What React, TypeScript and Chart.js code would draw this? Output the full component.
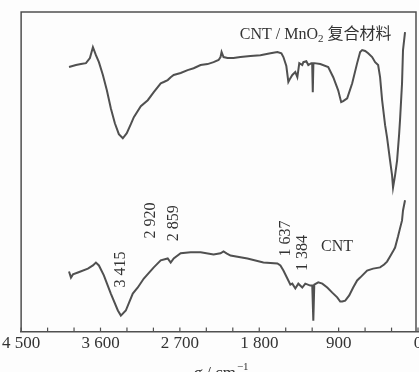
import React, { useEffect, useRef } from "react";
import { Chart, registerables } from "chart.js";

Chart.register(...registerables);

// Wavenumber (cm^-1) and relative transmittance readings
const compositeWavenumbers = [3957, 3878, 3822, 3765, 3720, 3686, 3652, 3618, 3573, 3528, 3483, 3437, 3392, 3347, 3302, 3256, 3222, 3143, 3064, 2996, 2917, 2883, 2838, 2804, 2770, 2691, 2612, 2544, 2465, 2386, 2318, 2261, 2239, 2227, 2205, 2160, 2092, 2013, 1900, 1787, 1673, 1594, 1549, 1526, 1493, 1470, 1447, 1425, 1391, 1368, 1346, 1312, 1300, 1266, 1244, 1210, 1200, 1193, 1186, 1176, 1108, 1018, 961, 905, 871, 848, 803, 746, 690, 656, 633, 599, 565, 520, 486, 452, 430, 407, 373, 351, 317, 294, 283, 260, 237, 215, 204, 181, 170, 147];
const compositeValues = [82.8, 83.4, 83.7, 84.0, 85.6, 89.0, 86.5, 84.3, 80.3, 75.5, 69.9, 65.2, 61.8, 60.5, 62.1, 64.9, 67.1, 70.5, 72.4, 74.9, 77.7, 78.1, 78.7, 79.6, 80.3, 80.9, 81.8, 82.4, 83.4, 83.7, 84.3, 85.0, 85.9, 87.5, 85.9, 85.6, 85.6, 85.9, 86.2, 86.5, 87.1, 87.5, 87.1, 85.9, 83.1, 78.1, 79.3, 80.3, 81.2, 79.6, 84.0, 83.4, 84.3, 84.6, 83.4, 84.0, 84.0, 74.9, 84.0, 84.0, 83.7, 82.8, 79.6, 75.5, 71.8, 72.1, 73.0, 77.7, 84.0, 87.5, 88.1, 87.8, 87.1, 85.9, 84.3, 83.4, 79.6, 72.4, 64.6, 60.8, 53.6, 48.9, 45.1, 48.9, 53.6, 61.4, 66.1, 77.7, 88.1, 93.7];

const cntWavenumbers = [3957, 3935, 3912, 3856, 3743, 3686, 3652, 3618, 3562, 3483, 3403, 3369, 3313, 3234, 3177, 3109, 2996, 2917, 2838, 2804, 2770, 2691, 2578, 2465, 2318, 2239, 2205, 2171, 2126, 1934, 1753, 1594, 1560, 1526, 1470, 1447, 1425, 1391, 1357, 1312, 1278, 1221, 1199, 1187, 1176, 1131, 1085, 1029, 972, 916, 882, 859, 825, 780, 735, 690, 656, 577, 509, 430, 384, 351, 317, 283, 260, 226, 204, 181, 170, 147];
const cntValues = [18.8, 16.9, 17.9, 18.5, 19.7, 20.7, 21.6, 20.7, 17.6, 11.9, 6.6, 5.0, 6.6, 11.9, 13.8, 16.6, 20.1, 22.3, 22.9, 21.6, 22.9, 24.5, 24.8, 24.8, 24.1, 24.5, 25.1, 24.5, 23.8, 22.9, 21.6, 21.3, 20.7, 19.1, 16.0, 14.7, 15.0, 13.5, 15.0, 13.8, 15.0, 14.4, 14.4, 3.4, 14.7, 15.4, 15.0, 13.8, 12.2, 10.7, 9.4, 9.4, 9.7, 11.3, 13.8, 16.0, 16.9, 19.1, 19.7, 20.1, 21.0, 21.9, 23.5, 25.1, 26.3, 29.8, 32.3, 34.8, 37.9, 41.1];

const xTickValues = [4500, 3600, 2700, 1800, 900, 0];
const xTickLabels = ["4 500", "3 600", "2 700", "1 800", "900", "0"];
const minorTickStep = 300;

// Peak annotations: text, wavenumber, transmittance (anchor of label centre)
const peakLabels = ["3 415", "2 920", "2 859", "1 637", "1 384"];
const peakLabelX = [3369, 3030, 2770, 1500, 1310];
const peakLabelY = [19.4, 34.8, 33.9, 29.1, 24.6];

const SERIF = '"Liberation Serif", "Times New Roman", serif';
const CJK = '"Noto Sans CJK SC", sans-serif';
const LINE = "#505050";
const TEXT = "#333333";

const decorPlugin = {
  id: "decor",
  afterDatasetsDraw(chart: any) {
    const { ctx, chartArea, scales } = chart;
    const xs = scales.x;
    const ys = scales.y;
    ctx.save();
    // frame (left, top, right)
    ctx.strokeStyle = LINE;
    ctx.lineWidth = 1.5;
    ctx.beginPath();
    ctx.moveTo(chartArea.left, chartArea.bottom);
    ctx.lineTo(chartArea.left, chartArea.top);
    ctx.lineTo(chartArea.right - 2, chartArea.top);
    ctx.lineTo(chartArea.right - 2, chartArea.bottom);
    ctx.stroke();
    // inward tick marks
    ctx.lineWidth = 1.2;
    for (let v = 0; v <= 4500; v += minorTickStep) {
      const px = xs.getPixelForValue(v);
      ctx.beginPath();
      ctx.moveTo(px, chartArea.bottom);
      ctx.lineTo(px, chartArea.bottom - 4);
      ctx.stroke();
    }
    // rotated peak labels
    ctx.fillStyle = TEXT;
    ctx.font = `16px ${SERIF}`;
    ctx.textAlign = "center";
    ctx.textBaseline = "middle";
    peakLabels.forEach((t, i) => {
      const px = xs.getPixelForValue(peakLabelX[i]);
      const py = ys.getPixelForValue(peakLabelY[i]);
      ctx.save();
      ctx.translate(px, py);
      ctx.rotate(-Math.PI / 2);
      ctx.fillText(t, 0, 0);
      ctx.restore();
    });
    // series labels
    ctx.textAlign = "left";
    ctx.textBaseline = "alphabetic";
    let x = xs.getPixelForValue(2020);
    const by = ys.getPixelForValue(91.5);
    ctx.font = `16px ${SERIF}`;
    const a = "CNT / MnO";
    ctx.fillText(a, x, by);
    x += ctx.measureText(a).width;
    ctx.font = `11px ${SERIF}`;
    ctx.fillText("2", x, by + 3);
    x += ctx.measureText("2").width + 4;
    ctx.font = `16px ${CJK}`;
    ctx.fillText("复合材料", x, by);

    ctx.font = `16px ${SERIF}`;
    ctx.textBaseline = "middle";
    ctx.fillText("CNT", xs.getPixelForValue(1100), ys.getPixelForValue(26.6));

    // axis title  σ / cm⁻¹
    ctx.textBaseline = "alphabetic";
    const ty = 378;
    ctx.font = `italic 17px ${SERIF}`;
    const sW = ctx.measureText("σ").width;
    ctx.font = `17px ${SERIF}`;
    const mW = ctx.measureText(" / cm").width;
    ctx.font = `11px ${SERIF}`;
    const eW = ctx.measureText("−1").width;
    let tx = (chartArea.left + chartArea.right) / 2 + 1 - (sW + mW + eW) / 2;
    ctx.font = `italic 17px ${SERIF}`;
    ctx.fillText("σ", tx, ty);
    tx += sW;
    ctx.font = `17px ${SERIF}`;
    ctx.fillText(" / cm", tx, ty);
    tx += mW;
    ctx.font = `11px ${SERIF}`;
    ctx.fillText("−1", tx + 1, ty - 8);
    ctx.restore();
  },
};

export default function App() {
  const canvasRef = useRef<HTMLCanvasElement | null>(null);

  useEffect(() => {
    const canvas = canvasRef.current;
    if (!canvas) return;
    const chart = new Chart(canvas, {
      type: "line",
      data: {
        datasets: [
          {
            label: "CNT / MnO2 复合材料",
            data: compositeWavenumbers.map((w, i) => ({ x: w, y: compositeValues[i] })),
            borderColor: LINE,
            borderWidth: 2,
            pointRadius: 0,
            fill: false,
            tension: 0,
          },
          {
            label: "CNT",
            data: cntWavenumbers.map((w, i) => ({ x: w, y: cntValues[i] })),
            borderColor: LINE,
            borderWidth: 2,
            pointRadius: 0,
            fill: false,
            tension: 0,
          },
        ],
      },
      options: {
        animation: false,
        responsive: false,
        devicePixelRatio: 1,
        layout: { padding: { left: 20, right: 22, top: 12, bottom: 16 } },
        plugins: { legend: { display: false }, tooltip: { enabled: false } },
        scales: {
          x: {
            type: "linear",
            reverse: true,
            min: 0,
            max: 4500,
            afterBuildTicks: (scale: any) => {
              scale.ticks = xTickValues.map((v) => ({ value: v }));
            },
            ticks: {
              autoSkip: false,
              maxRotation: 0,
              padding: 2,
              color: TEXT,
              font: { family: SERIF, size: 17 },
              callback: (v: any) => {
                const i = xTickValues.indexOf(Number(v));
                return i >= 0 ? xTickLabels[i] : "";
              },
            },
            grid: { display: false, drawTicks: false },
            border: { display: true, color: LINE, width: 1.5 },
          },
          y: {
            display: false,
            min: 0,
            max: 100,
          },
        },
      },
      plugins: [decorPlugin],
    });
    return () => chart.destroy();
  }, []);

  return (
    <div
      style={{
        position: "fixed",
        left: 0,
        top: 0,
        width: 419,
        height: 372,
        overflow: "hidden",
        background: "#fdfdfd",
      }}
    >
      <canvas ref={canvasRef} width={440} height={372} style={{ display: "block" }} />
    </div>
  );
}
